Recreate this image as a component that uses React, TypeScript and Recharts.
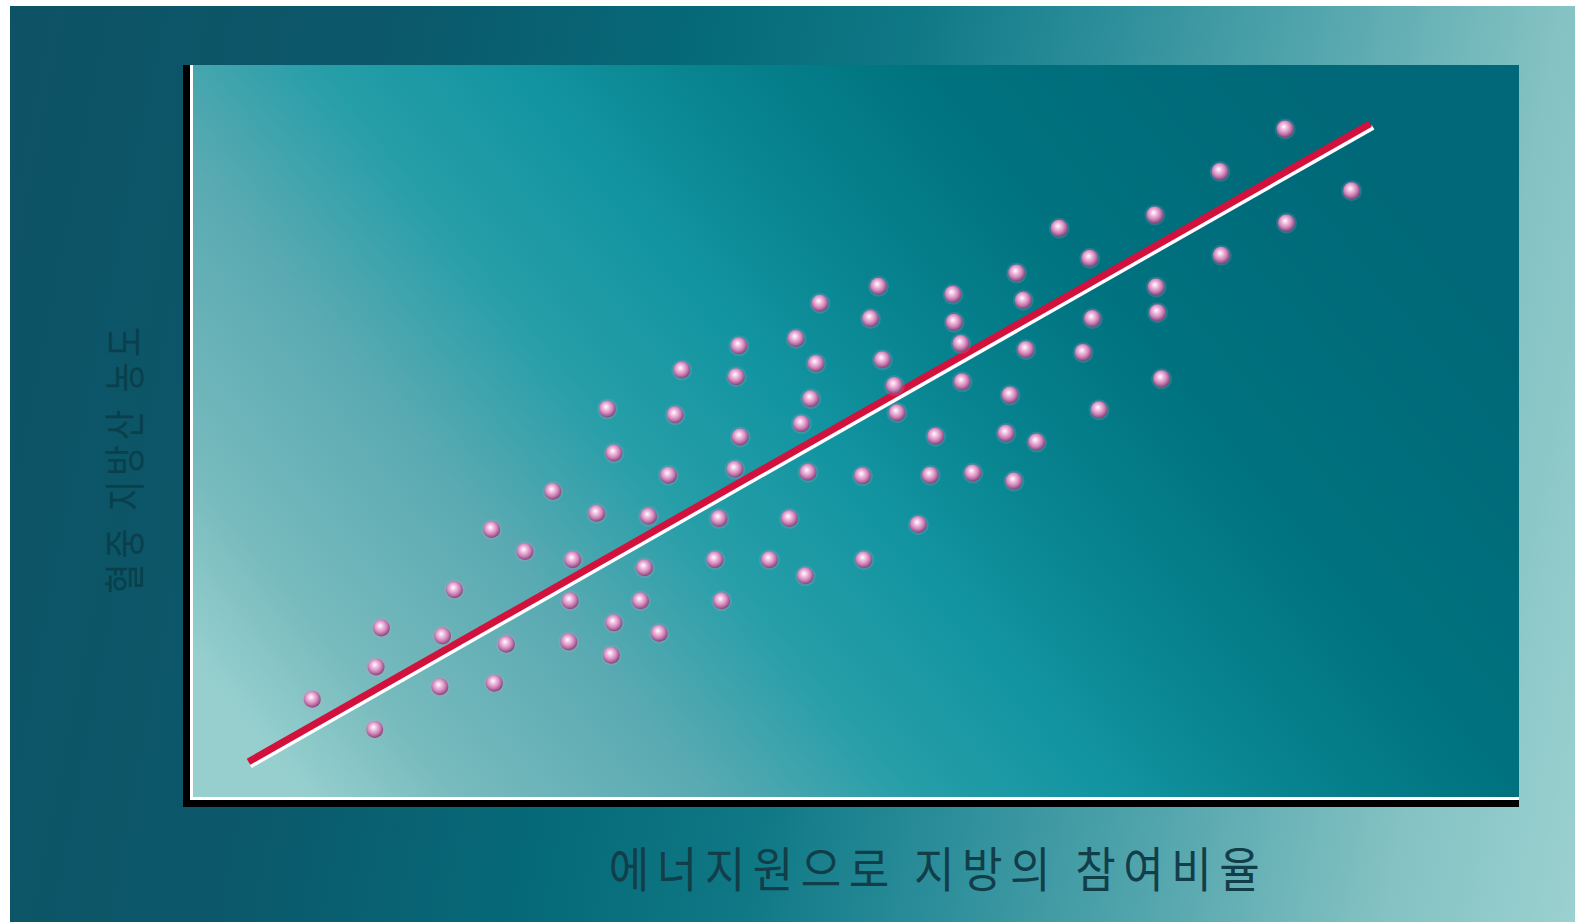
import { ScatterChart, Scatter, XAxis, YAxis, ReferenceArea, ReferenceLine } from "recharts";

// share of fat as energy source (x) vs blood fatty acid level (y), unitless 0-100
const fatShare = [
  9.2, 13.9, 14.0, 14.4, 18.8, 19.0, 19.9, 22.7, 22.9, 23.8,
  25.2, 27.3, 28.5, 28.6, 28.8, 30.6, 31.4, 31.7, 31.9, 31.9,
  33.9, 34.2, 34.5, 35.3, 36.0, 36.5, 37.0, 39.5, 39.8, 40.0,
  41.0, 41.1, 41.3, 41.4, 43.6, 45.1, 45.6, 46.0, 46.3, 46.5,
  46.7, 47.1, 47.4, 50.6, 50.7, 51.2, 51.8, 52.1, 53.0, 53.2,
  54.8, 55.7, 56.1, 57.4, 57.5, 58.0, 58.1, 58.9, 61.4, 61.7,
  62.0, 62.2, 62.7, 62.9, 63.7, 65.4, 67.2, 67.7, 67.9, 68.4,
  72.6, 72.7, 72.8, 73.1, 77.5, 77.6, 82.4, 82.5, 87.4,
];
const fattyAcidLevel = [
  13.7, 9.6, 18.1, 23.4, 15.4, 22.3, 28.6, 36.8, 15.9, 21.2,
  33.8, 42.0, 21.5, 27.1, 32.7, 39.0, 53.2, 19.7, 24.1, 47.2,
  27.1, 31.6, 38.6, 22.7, 44.2, 52.4, 58.5, 32.7, 38.3, 27.1,
  45.0, 57.6, 61.8, 49.4, 32.7, 38.3, 62.8, 51.2, 30.5, 44.6,
  54.6, 59.4, 67.6, 44.1, 32.7, 65.5, 69.9, 59.9, 56.4, 52.7,
  37.5, 44.2, 49.5, 68.8, 65.0, 62.1, 56.9, 44.5, 49.9, 55.1,
  43.4, 71.7, 68.0, 61.3, 48.7, 77.8, 60.9, 73.7, 65.5, 53.1,
  79.6, 69.8, 66.3, 57.3, 85.5, 74.1, 91.3, 78.5, 82.9,
];
const trendX = [4.4, 88.8];
const trendY = [5.2, 92.0];

const xTitle = "에너지원으로 지방의 참여비율";
const yTitle = "혈중 지방산 농도";

const points = fatShare.map((x, i) => ({ x, y: fattyAcidLevel[i] }));
const trend = trendX.map((x, i) => ({ x, y: trendY[i] }));

const KO_FONT = "'Noto Sans CJK KR', 'Noto Sans', sans-serif";

const Ball = (props: any) => {
  const { cx, cy } = props;
  if (cx == null || cy == null) return null;
  return (
    <g>
      <circle cx={cx} cy={cy} r={10.5} fill="#d79ac8" opacity={0.2} />
      <circle cx={cx} cy={cy} r={8.5} fill="url(#ballFill)" />
    </g>
  );
};

const TrendShape = (props: any) => {
  const { x1, y1, x2, y2 } = props;
  return (
    <g>
      <line x1={x1 + 2} y1={y1 + 4} x2={x2 + 3} y2={y2 + 3.5} stroke="#ffffff" strokeWidth={5} />
      <line x1={x1} y1={y1} x2={x2} y2={y2} stroke="#d3113d" strokeWidth={7} />
    </g>
  );
};

const BottomFrame = (props: any) => {
  const { x1, y1, x2 } = props;
  const left = Math.min(x1, x2);
  const right = Math.max(x1, x2);
  return (
    <g>
      <line x1={left - 7} y1={y1 + 3.5} x2={right} y2={y1 + 3.5} stroke="#000" strokeWidth={7} />
      <line x1={left} y1={y1 - 1.5} x2={right} y2={y1 - 1.5} stroke="#fff" strokeWidth={3} />
    </g>
  );
};

const LeftFrame = (props: any) => {
  const { x1, y1, y2 } = props;
  const top = Math.min(y1, y2);
  const bottom = Math.max(y1, y2);
  return (
    <g>
      <line x1={x1 - 3.5} y1={top} x2={x1 - 3.5} y2={bottom + 7} stroke="#000" strokeWidth={7} />
      <line x1={x1 + 1.5} y1={top} x2={x1 + 1.5} y2={bottom - 3} stroke="#fff" strokeWidth={3} />
    </g>
  );
};

const XTitle = () => (
  <text
    transform="translate(938, 866) scale(1, 1.08)"
    textAnchor="middle"
    dominantBaseline="central"
    fontFamily={KO_FONT}
    fontSize={44}
    letterSpacing={7.5}
    fill="#123e4a"
  >
    {xTitle}
  </text>
);

const YTitle = () => (
  <text
    transform="translate(122, 458) rotate(-90) scale(1, 1.25)"
    textAnchor="middle"
    dominantBaseline="central"
    fontFamily={KO_FONT}
    fontSize={33}
    letterSpacing={5}
    fill="#0a404c"
  >
    {yTitle}
  </text>
);

export default function App() {
  return (
    <div style={{ position: "absolute", left: 0, top: 0, width: 1575, height: 922, background: "#fff", overflow: "hidden" }}>
      <svg width={0} height={0} style={{ position: "absolute" }}>
        <defs>
          <linearGradient id="plotBg" x1="0" y1="0.8" x2="1" y2="0.35">
            <stop offset="0" stopColor="#96cfce" />
            <stop offset="0.1" stopColor="#76babd" />
            <stop offset="0.25" stopColor="#5aaab2" />
            <stop offset="0.38" stopColor="#269ea8" />
            <stop offset="0.5" stopColor="#1395a1" />
            <stop offset="0.62" stopColor="#07838f" />
            <stop offset="0.76" stopColor="#00727f" />
            <stop offset="1" stopColor="#006878" />
          </linearGradient>
          <radialGradient id="ballFill" cx="0.45" cy="0.42" r="0.6" fx="0.42" fy="0.36">
            <stop offset="0" stopColor="#ffffff" />
            <stop offset="0.25" stopColor="#f5c8e6" />
            <stop offset="0.6" stopColor="#d388bd" />
            <stop offset="0.85" stopColor="#a05a8e" />
            <stop offset="1" stopColor="#74446e" />
          </radialGradient>
        </defs>
      </svg>
      <div
        style={{
          position: "absolute",
          left: 10,
          top: 6,
          width: 1565,
          height: 916,
          background:
            "linear-gradient(101deg, #0e5265 0%, #0b586a 22%, #066a78 40%, #0f7885 52%, #2f909c 64%, #56a7ae 76%, #84c2c3 89%, #9bd1d0 100%)",
        }}
      />
      <div style={{ position: "absolute", left: 0, top: 0 }}>
        <ScatterChart width={1575} height={922} margin={{ top: 65, right: 56, bottom: 0, left: 0 }}>
          <XAxis
            type="number"
            dataKey="x"
            domain={[0, 100]}
            allowDataOverflow
            height={122}
            axisLine={false}
            tickLine={false}
            tick={false}
          />
          <YAxis
            type="number"
            dataKey="y"
            domain={[0, 100]}
            allowDataOverflow
            width={190}
            axisLine={false}
            tickLine={false}
            tick={false}
          />
          <ReferenceArea x1={0} x2={100} y1={0} y2={100} fill="url(#plotBg)" fillOpacity={1} stroke="none" />
          <ReferenceLine y={0} shape={BottomFrame} />
          <ReferenceLine x={0} shape={LeftFrame} />
          <Scatter data={points} shape={Ball} isAnimationActive={false} />
          <ReferenceLine segment={trend} shape={TrendShape} />
          <XTitle />
          <YTitle />
        </ScatterChart>
      </div>
    </div>
  );
}
